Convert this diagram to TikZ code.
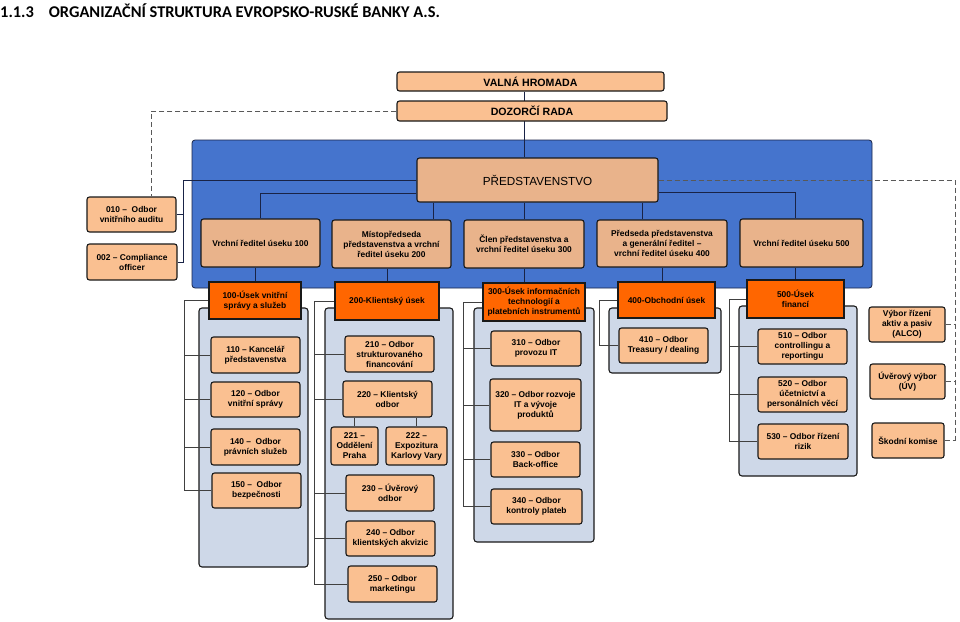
\documentclass[tikz,border=0pt]{standalone}
\usepackage{fontspec}
\setmainfont{Liberation Sans}
\newfontfamily\titlefont{Carlito}
\usepackage{tikz}

\definecolor{bluebg}{RGB}{69,116,205}
\definecolor{tanbox}{RGB}{233,179,139}
\definecolor{peach}{RGB}{250,192,145}
\definecolor{deeporange}{RGB}{255,102,0}
\definecolor{panelblue}{RGB}{206,216,232}
\definecolor{boxline}{RGB}{25,25,25}
\definecolor{navy}{RGB}{25,35,70}

\pgfdeclarelayer{bg}
\pgfdeclarelayer{lines}
\pgfsetlayers{bg,lines,main}

\tikzset{
  box/.style={draw=boxline, line width=1.1pt, rounded corners=2.5pt, align=center,
    inner sep=1pt, font=\bfseries\fontsize{8.4}{10}\selectfont},
  dept/.style={box, fill=peach},
  board/.style={box, fill=tanbox},
  head/.style={box, fill=deeporange, rounded corners=0pt},
  panel/.style={draw=boxline, line width=1.1pt, fill=panelblue, rounded corners=3pt},
  tree/.style={draw=navy, line width=0.8pt},
  bracket/.style={draw=black!75, line width=0.8pt},
  dashline/.style={draw=black!65, line width=0.8pt, dash pattern=on 5pt off 3pt},
  wh/.style 2 args={minimum width=#1pt, minimum height=#2pt},
}

\begin{document}
\begin{tikzpicture}[x=1pt,y=-1pt]
  \useasboundingbox (0,0) rectangle (960,621);

  \node[anchor=west, inner sep=0pt, font=\titlefont\bfseries\fontsize{16.4}{18}\selectfont] (title) at (0,11)
    {1.1.3\hspace{15pt}ORGANIZAČNÍ STRUKTURA EVROPSKO-RUSKÉ BANKY A.S.};

  % valna hromada, dozorci rada
  \node[dept, wh={267}{19}, font=\bfseries\fontsize{10.6}{12}\selectfont] (vh) at (530.5,81.5) {VALNÁ HROMADA};
  \node[dept, wh={270}{20}, font=\bfseries\fontsize{10.6}{12}\selectfont] (dr) at (532,111) {DOZORČÍ RADA};

  % predstavenstvo a vrchni reditele
  \node[board, wh={241}{44}, font=\fontsize{11.7}{13}\selectfont] (pr) at (537.5,180) {PŘEDSTAVENSTVO};
  \node[board, wh={119}{48}] (v100) at (260.5,243) {Vrchní ředitel úseku 100};
  \node[board, wh={119}{48}] (v200) at (391.5,244) {Místopředseda\\představenstva a vrchní\\ředitel úseku 200};
  \node[board, wh={120}{48}] (v300) at (524,244) {Člen představenstva a\\vrchní ředitel úseku 300};
  \node[board, wh={130}{47}] (v400) at (662,243.5) {Předseda představenstva\\a generální ředitel –\\vrchní ředitel úseku 400};
  \node[board, wh={123}{48}] (v500) at (801.5,243) {Vrchní ředitel úseku 500};

  \node[dept, wh={89}{35}] (aud) at (131.5,214.5) {010 –\ \ Odbor\\vnitřního auditu};
  \node[dept, wh={90}{36}] (cmp) at (132,262) {002 – Compliance\\officer};

  % useky
  \node[head, wh={92}{37}] (h100) at (255,300.5) {100-Úsek vnitřní\\správy a služeb};
  \node[head, wh={104}{38}] (h200) at (387,301) {200-Klientský úsek};
  \node[head, wh={102}{38}] (h300) at (534,302) {300-Úsek informačních\\technologií a\\platebních instrumentů};
  \node[head, wh={97}{36}] (h400) at (666.5,300) {400-Obchodní úsek};
  \node[head, wh={97}{38}] (h500) at (795.5,299) {500-Úsek\\financí};

  % odbory
  \node[dept, wh={89}{36}] (o110) at (255.5,355) {110 – Kancelář\\představenstva};
  \node[dept, wh={89}{35}] (o120) at (255.5,399.5) {120 – Odbor\\vnitřní správy};
  \node[dept, wh={89}{36}] (o140) at (255.5,447) {140 –\ \ Odbor\\právních služeb};
  \node[dept, wh={89}{35}] (o150) at (256.5,490.5) {150 –\ \ Odbor\\bezpečnosti};

  \node[dept, wh={89}{36}] (o210) at (389.5,354) {210 – Odbor\\strukturovaného\\financování};
  \node[dept, wh={89}{36}] (o220) at (387.5,399) {220 – Klientský\\odbor};
  \node[dept, wh={47}{38}] (o221) at (354.5,446) {221 –\\Oddělení\\Praha};
  \node[dept, wh={61}{38}] (o222) at (416.5,446) {222 –\\Expozitura\\Karlovy Vary};
  \node[dept, wh={88}{36}] (o230) at (390,493) {230 – Úvěrový\\odbor};
  \node[dept, wh={89}{35}] (o240) at (390.5,538.5) {240 – Odbor\\klientských akvizic};
  \node[dept, wh={89}{36}] (o250) at (392.5,584) {250 – Odbor\\marketingu};

  \node[dept, wh={90}{35}] (o310) at (536,348.5) {310 – Odbor\\provozu IT};
  \node[dept, wh={91}{52}] (o320) at (535.5,405) {320 – Odbor rozvoje\\IT a vývoje\\produktů};
  \node[dept, wh={89}{35}] (o330) at (535.5,459.5) {330 – Odbor\\Back-office};
  \node[dept, wh={91}{35}] (o340) at (536.5,506.5) {340 – Odbor\\kontroly plateb};

  \node[dept, wh={89}{35}] (o410) at (663.5,345.5) {410 – Odbor\\Treasury / dealing};

  \node[dept, wh={89}{35}] (o510) at (802.5,346.5) {510 – Odbor\\controllingu a\\reportingu};
  \node[dept, wh={89}{35}] (o520) at (802.5,394.5) {520 – Odbor\\účetnictví a\\personálních věcí};
  \node[dept, wh={90}{35}] (o530) at (803,441.5) {530 – Odbor řízení\\rizik};

  % vybory
  \node[dept, wh={76}{35}] (alco) at (907,324.5) {Výbor řízení\\aktiv a pasiv\\(ALCO)};
  \node[dept, wh={75}{35}] (uv) at (907.5,381.5) {Úvěrový výbor\\(ÚV)};
  \node[dept, wh={72}{35}] (kom) at (908,440.5) {Škodní komise};

  \begin{pgfonlayer}{bg}
    \draw[draw=navy, line width=0.8pt, fill=bluebg, rounded corners=3pt] (192,140) rectangle (872,288);
    \draw[panel] (199,308) rectangle (308,567);
    \draw[panel] (325,308) rectangle (453,619);
    \draw[panel] (474,308) rectangle (594,542);
    \draw[panel] (609,308) rectangle (721,373);
    \draw[panel] (739,306) rectangle (857,476);
  \end{pgfonlayer}

  \begin{pgfonlayer}{lines}
    \coordinate (spine) at (183,0);
    \coordinate (j200) at (433,0);
    \coordinate (j400) at (642,0);
    \coordinate (rail) at (955,180);

    \draw[tree] (vh.south -| v300.north) -- (pr.north -| v300.north);
    \draw[tree] (pr.west) -- (pr.west -| spine) |- (cmp.east);
    \draw[tree] (aud.east) -- (aud.east -| spine);
    \draw[tree] ([yshift=-13pt]pr.west) -| (v100.north);
    \draw[tree] (pr.south -| j200) -- (v200.north -| j200);
    \draw[tree] (pr.south -| v300.north) -- (v300.north);
    \draw[tree] (pr.south -| j400) -- (v400.north -| j400);
    \draw[tree] ([yshift=-12pt]pr.east) -| (v500.north -| h500.north);

    \draw[tree] (v100.south -| h100.north) -- (h100.north);
    \draw[tree] (v200.south -| h200.north) -- (h200.north);
    \draw[tree] (v300.south) -- (v300.south |- h300.north);
    \draw[tree] (v400.south) -- (v400.south |- h400.north);
    \draw[tree] (v500.south -| h500.north) -- (h500.north);

    \foreach \hd/\bx/\kids in {h100/184/{o110,o120,o140,o150},
        h200/314/{o210,o220,o230,o240,o250}, h300/463/{o310,o320,o330,o340},
        h400/599/{o410}, h500/729/{o510,o520,o530}} {
      \coordinate (bx) at (\bx,0);
      \foreach \k in \kids
        \draw[bracket] (\k.west) -| (bx |- \hd.west) -- (\hd.west);
    }
    \draw[bracket] (o221.north) -- (o221.north |- o220.south);
    \draw[bracket] (o222.north) -- (o222.north |- o220.south);

    \draw[dashline] (dr.west) -| ([xshift=20pt]aud.north);
    \draw[dashline] (pr.east) -- (rail) -- (rail |- kom.east);
    \foreach \n in {alco,uv,kom}
      \draw[dashline] (\n.east) -- (\n.east -| rail);
  \end{pgfonlayer}
\end{tikzpicture}
\end{document}
